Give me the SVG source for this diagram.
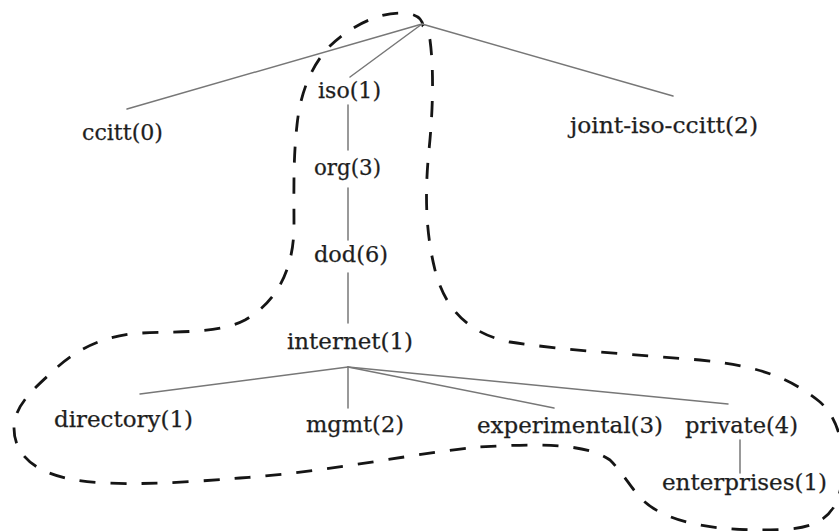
<svg xmlns="http://www.w3.org/2000/svg" width="839" height="531" viewBox="0 0 839 531">
  <style>
    .edge { stroke: #777; stroke-width: 1.5; fill: none; stroke-linecap: round; }
    .lbl { font-family: "DejaVu Serif", "Liberation Serif", serif; font-size: 22px; fill: #1e1e1e; stroke: #1e1e1e; stroke-width: 0.25; }
    .boundary { stroke: #151515; stroke-width: 2.8; fill: none; stroke-dasharray: 16 15; stroke-linecap: butt; }
  </style>
  <rect width="839" height="531" fill="#fff"/>

  <!-- dashed outline enclosing the iso / internet subtree -->
  <path class="boundary" d="M 423,26 C 422,16 412,13 400,13 C 375,13 345,30 328,48 C 310,68 300,95 297,125 C 293,160 294,195 294,225 C 294,265 280,300 245,320 C 215,336 165,330 130,334 C 100,338 75,350 52,372 C 35,388 14,405 14,428 C 14,455 35,472 70,479 C 110,487 180,483 240,478 C 330,472 420,452 480,447 C 530,444 585,442 610,460 C 630,480 635,500 660,512 C 690,528 740,532 790,529 C 820,526 838,515 842,480 C 845,450 840,420 820,402 C 790,378 760,366 700,360 C 640,355 560,350 510,342 C 470,334 445,310 435,270 C 425,230 425,190 429,150 C 433,110 434,70 430,40 C 428,32 426,28 423,26 Z"/>

  <g id="connectors">
    <line class="edge" x1="422" y1="24" x2="127" y2="109"/>
    <line class="edge" x1="422" y1="24" x2="350" y2="77"/>
    <line class="edge" x1="422" y1="24" x2="673" y2="96"/>
    <line class="edge" x1="348" y1="105" x2="348" y2="150"/>
    <line class="edge" x1="348" y1="188" x2="348" y2="240"/>
    <line class="edge" x1="348" y1="273" x2="348" y2="323"/>
    <line class="edge" x1="348" y1="367" x2="140" y2="394"/>
    <line class="edge" x1="348" y1="367" x2="348" y2="408"/>
    <line class="edge" x1="348" y1="367" x2="554" y2="408"/>
    <line class="edge" x1="348" y1="367" x2="728" y2="404"/>
    <line class="edge" x1="740" y1="440" x2="740" y2="473"/>
  </g>

  <g id="ccitt"><text class="lbl" x="82" y="140" textLength="81" lengthAdjust="spacingAndGlyphs">ccitt(0)</text></g>
  <g id="iso"><text class="lbl" x="318" y="98" textLength="63" lengthAdjust="spacingAndGlyphs">iso(1)</text></g>
  <g id="joint-iso-ccitt"><text class="lbl" x="570" y="133" textLength="188" lengthAdjust="spacingAndGlyphs">joint-iso-ccitt(2)</text></g>
  <g id="org"><text class="lbl" x="314" y="175" textLength="67" lengthAdjust="spacingAndGlyphs">org(3)</text></g>
  <g id="dod"><text class="lbl" x="314" y="262" textLength="74" lengthAdjust="spacingAndGlyphs">dod(6)</text></g>
  <g id="internet"><text class="lbl" x="287" y="349" textLength="126" lengthAdjust="spacingAndGlyphs">internet(1)</text></g>
  <g id="directory"><text class="lbl" x="54" y="427" textLength="139" lengthAdjust="spacingAndGlyphs">directory(1)</text></g>
  <g id="mgmt"><text class="lbl" x="306" y="432" textLength="98" lengthAdjust="spacingAndGlyphs">mgmt(2)</text></g>
  <g id="experimental"><text class="lbl" x="477" y="433" textLength="186" lengthAdjust="spacingAndGlyphs">experimental(3)</text></g>
  <g id="private"><text class="lbl" x="685" y="433" textLength="113" lengthAdjust="spacingAndGlyphs">private(4)</text></g>
  <g id="enterprises"><text class="lbl" x="662" y="490" textLength="165" lengthAdjust="spacingAndGlyphs">enterprises(1)</text></g>
</svg>
